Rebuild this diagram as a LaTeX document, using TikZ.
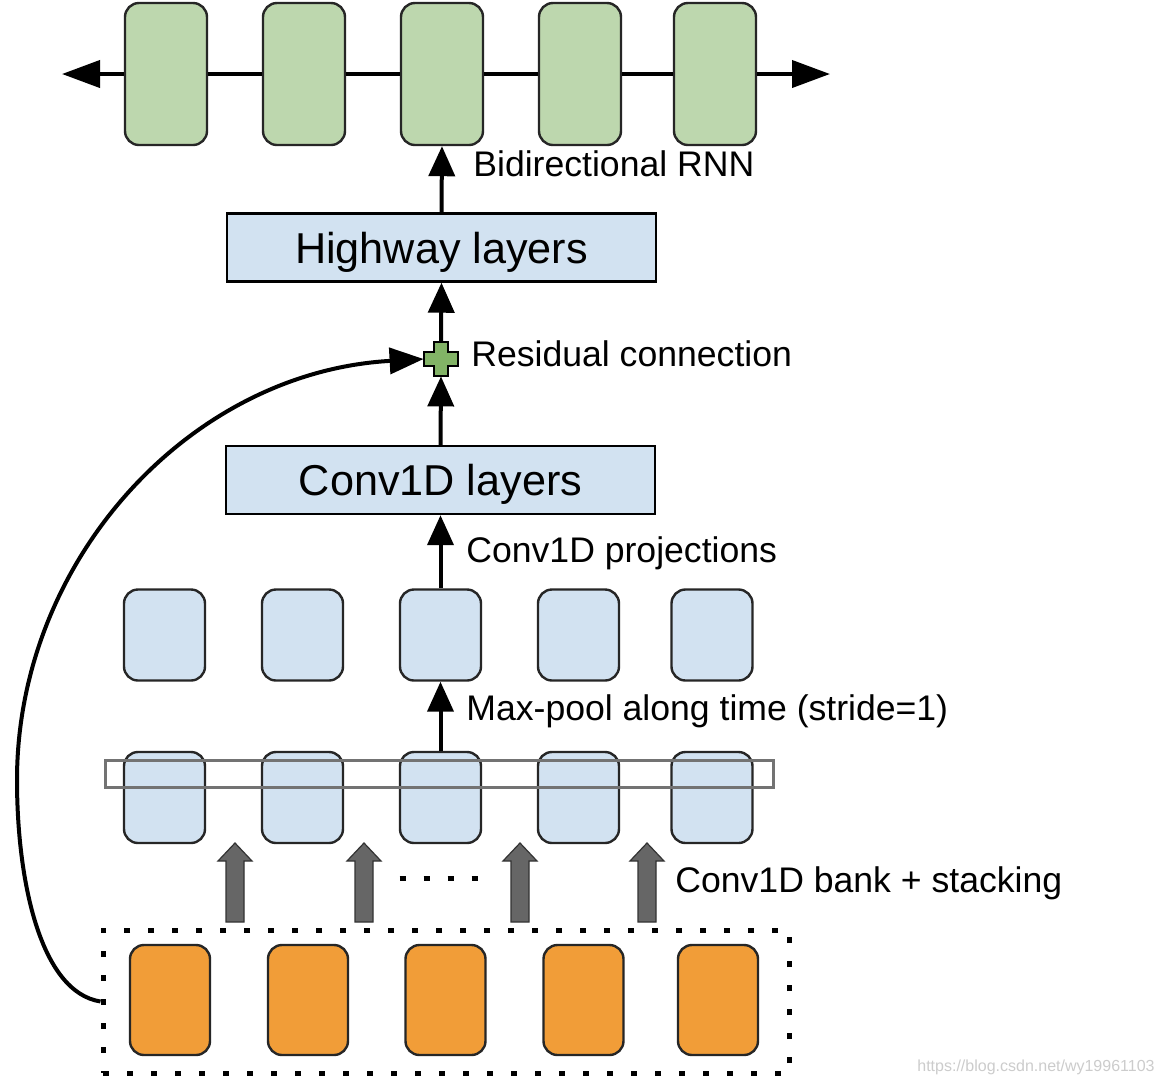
\documentclass[tikz,border=0pt]{standalone}
\usepackage{fontspec}
\setmainfont{Liberation Sans}
\usetikzlibrary{arrows.meta}
\definecolor{rnngreen}{HTML}{BDD7AE}
\definecolor{convblue}{HTML}{D2E2F1}
\definecolor{inorange}{HTML}{F19D38}
\definecolor{plusgreen}{HTML}{82B366}
\definecolor{bankgray}{HTML}{666666}
\definecolor{wmgray}{HTML}{CCCCCC}
\begin{document}
\begin{tikzpicture}[x=0.5pt,y=-0.5pt,
  cell/.style={draw=black!85, line width=1.2pt, rounded corners=7pt, inner sep=0pt},
  greencell/.style={cell, fill=rnngreen, minimum width=41pt, minimum height=71pt},
  bluecell/.style={cell, fill=convblue, minimum width=40.5pt, minimum height=45.5pt},
  orangecell/.style={cell, fill=inorange, minimum width=40pt, minimum height=55pt},
  layerbox/.style={draw=black, line width=1.2pt, fill=convblue, minimum width=214.5pt, minimum height=34pt,
    font=\fontsize{21.6}{26}\selectfont, text height=15.5pt, text depth=0pt, inner sep=0pt},
  lbl/.style={anchor=base west, inner sep=0pt, font=\fontsize{17.8}{21}\selectfont},
  flow/.style={line width=2pt, -{Triangle[length=15pt,width=13pt]}},
  rnnline/.style={line width=2pt},
  rnnarrow/.style={line width=2pt, -{Triangle[length=19pt,width=13.5pt]}},
  dotline/.style={line width=2.5pt, dash pattern=on 3pt off 9pt},
  bankarrow/.style={fill=bankgray, draw=black!80, line width=0.6pt},
]
\useasboundingbox (0,0) rectangle (1164,1084);
\fill[white] (0,0) rectangle (1164,1084);

% Bidirectional RNN cells
\node[greencell] (g1) at (166,74) {};
\node[greencell] (g2) at (304,74) {};
\node[greencell] (g3) at (442,74) {};
\node[greencell] (g4) at (580,74) {};
\node[greencell] (g5) at (715,74) {};
\coordinate (lt) at (62,74);
\coordinate (rt) at (830,74);
\draw[rnnarrow] (g1.west) -- (lt);
\draw[rnnline] (g1.east) -- (g2.west);
\draw[rnnline] (g2.east) -- (g3.west);
\draw[rnnline] (g3.east) -- (g4.west);
\draw[rnnline] (g4.east) -- (g5.west);
\draw[rnnarrow] (g5.east) -- (rt);

% Layers
\node[layerbox] (hw) at (441.5,247.5) {Highway layers};
\node[layerbox] (cv) at (440.5,480) {Conv1D layers};

% Residual plus
\node[minimum size=17pt, inner sep=0pt] (plus) at (441,359) {};
\draw[fill=plusgreen, draw=black, line width=0.8pt, shift={(plus.center)}]
  (-7,-17) -- (7,-17) -- (7,-7) -- (17,-7) -- (17,7) -- (7,7) -- (7,17) -- (-7,17) -- (-7,7) -- (-17,7) -- (-17,-7) -- (-7,-7) -- cycle;

% Projection row
\node[bluecell] (p1) at (164.5,635) {};
\node[bluecell] (p2) at (302.5,635) {};
\node[bluecell] (p3) at (440.5,635) {};
\node[bluecell] (p4) at (578.5,635) {};
\node[bluecell] (p5) at (712,635) {};

% Bank row
\node[bluecell] (b1) at (164.5,797.5) {};
\node[bluecell] (b2) at (302.5,797.5) {};
\node[bluecell] (b3) at (440.5,797.5) {};
\node[bluecell] (b4) at (578.5,797.5) {};
\node[bluecell] (b5) at (712,797.5) {};
\node[draw=black!55, line width=1.5pt, minimum width=334pt, minimum height=13.5pt, inner sep=0pt] (pool) at (439,773.5) {};

% Input
\node[draw, dotline, minimum width=343pt, minimum height=71.5pt, inner sep=0pt] (inbox) at (446,1001.5) {};
\node[orangecell] (i1) at (170,1000) {};
\node[orangecell] (i2) at (308,1000) {};
\node[orangecell] (i3) at (445.5,1000) {};
\node[orangecell] (i4) at (583.5,1000) {};
\node[orangecell] (i5) at (718,1000) {};

% Gray bank arrows
\foreach \ax in {235,364,520,647}{
  \draw[bankarrow, shift={(\ax,0)}] (-9,922) -- (-9,861) -- (-17,861) -- (0,843) -- (17,861) -- (9,861) -- (9,922) -- cycle;
}
\draw[dotline] (399.5,878) -- (480,878);

% Flow arrows
\draw[flow] (hw.north) -- (g3.south);
\draw[flow] (plus.north) -- (hw.south);
\draw[flow] (cv.north) -- (plus.south);
\draw[flow] (p3.north) -- (cv.south);
\draw[flow] (b3.north) -- (p3.south);
\draw[line width=2pt, -{Triangle[length=17pt,width=13pt]}] (inbox.west) .. controls (40,992) and (17,880) .. (17,780) .. controls (17,560) and (190,372) .. (plus.west);

% Labels
\node[lbl] (lrnn) at (473,176) {Bidirectional RNN};
\node[lbl] (lres) at (471,366) {Residual connection};
\node[lbl] (lproj) at (466,562) {Conv1D projections};
\node[lbl] (lpool) at (466,720) {Max-pool along time (stride=1)};
\node[lbl] (lbank) at (675,892) {Conv1D bank + stacking};

\node[anchor=base east, inner sep=0pt, text=wmgray, font=\fontsize{8}{10}\selectfont] (wm) at (1155,1071) {https://blog.csdn.net/wy19961103};
\end{tikzpicture}
\end{document}
